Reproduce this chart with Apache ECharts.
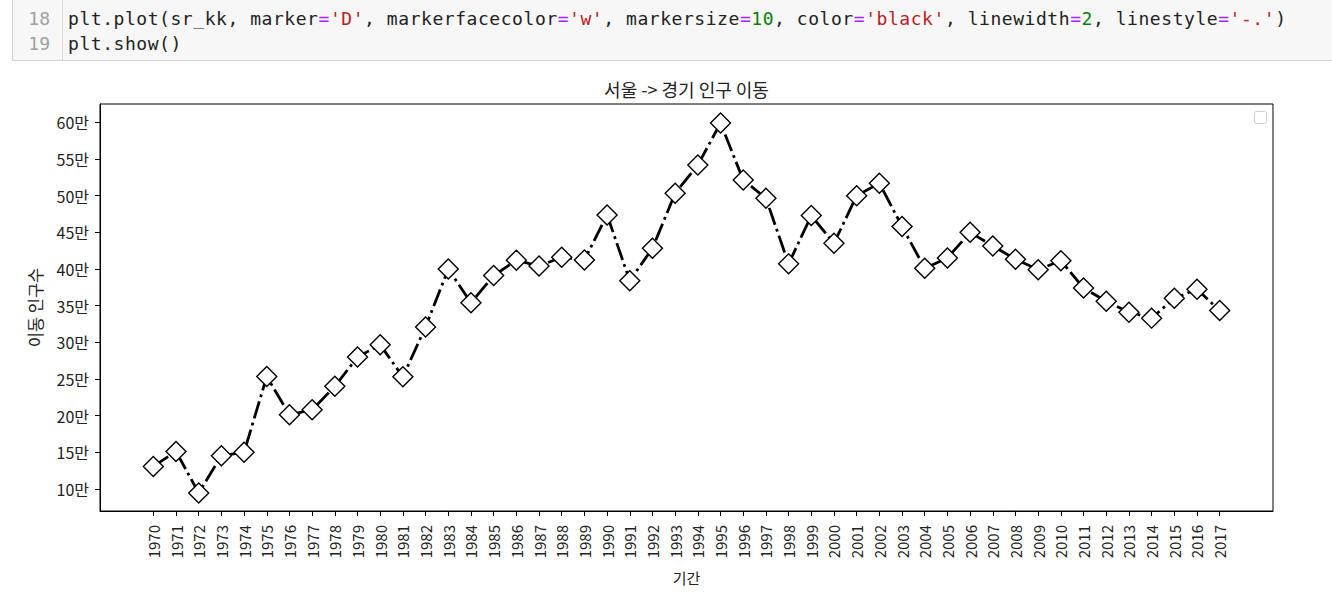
<!DOCTYPE html>
<html>
<head>
<meta charset="utf-8">
<script src="https://cdn.jsdelivr.net/npm/echarts@6/dist/echarts.min.js"></script>
<style>
  html, body { margin:0; padding:0; background:#fff; width:1332px; height:597px; overflow:hidden; }
  #chart { position:absolute; left:0; top:0; width:1332px; height:597px; }
  #cell { position:absolute; left:12px; top:-1px; width:1330px; height:62px; background:#f7f7f7;
          border:1px solid #d2d2d2; box-sizing:border-box; z-index:2; }
  #gutter { position:absolute; left:0; top:0; width:50px; height:100%; border-right:1px solid #dcdcdc;
            box-sizing:border-box; }
  .ln { position:absolute; right:12px; color:#a0a0a0; font-family:"DejaVu Sans Mono", monospace; font-size:18px; line-height:25px; }
  .code { position:absolute; left:55px; font-family:"DejaVu Sans Mono", monospace; font-size:18px; letter-spacing:0.55px;
          line-height:25px; color:#222; white-space:pre; }
  .o { color:#aa22ff; } .s { color:#ba2121; } .n { color:#008000; }
</style>
</head>
<body>
<div id="chart"></div>
<div id="cell">
  <div id="gutter">
    <div class="ln" style="top:6px">18</div>
    <div class="ln" style="top:31px">19</div>
  </div>
  <div class="code" style="top:6px">plt.plot(sr_kk, marker<span class="o">=</span><span class="s">'D'</span>, markerfacecolor<span class="o">=</span><span class="s">'w'</span>, markersize<span class="o">=</span><span class="n">10</span>, color<span class="o">=</span><span class="s">'black'</span>, linewidth<span class="o">=</span><span class="n">2</span>, linestyle<span class="o">=</span><span class="s">'-.'</span>)</div>
  <div class="code" style="top:31px">plt.show()</div>
</div>
<script>
const chartTitle = '서울 -> 경기 인구 이동';
const xName = '기간';
const yName = '이동 인구수';
const years = [1970,1971,1972,1973,1974,1975,1976,1977,1978,1979,1980,1981,1982,1983,1984,1985,1986,1987,1988,1989,
  1990,1991,1992,1993,1994,1995,1996,1997,1998,1999,2000,2001,2002,2003,2004,2005,2006,2007,2008,2009,
  2010,2011,2012,2013,2014,2015,2016,2017];
// 이동 인구수 (만 명 단위)
const movers = [13.08,15.12,9.46,14.54,15.0,25.34,20.12,20.8,24.0,28.0,29.66,25.3,32.1,40.0,35.4,39.1,41.2,40.4,41.6,41.24,
  47.37,38.4,42.83,50.33,54.18,59.9,52.14,49.65,40.7,47.28,43.5,50.0,51.7,45.8,40.1,41.5,45.0,43.15,41.33,39.9,
  41.14,37.4,35.6,34.1,33.3,36.0,37.25,34.33];
const yTicks = [10,15,20,25,30,35,40,45,50,55,60];

const FONT = '"Noto Sans CJK KR", "Noto Sans", sans-serif';
const chart = echarts.init(document.getElementById('chart'), null, { renderer: 'svg' });
const span = years[years.length-1] - years[0];
chart.setOption({
  animation: false,
  backgroundColor: '#fff',
  grid: { left: 100, right: 59, top: 104, bottom: 86, show: true, borderColor: '#000', borderWidth: 1, backgroundColor: '#fff' },
  graphic: [
    { type: 'text', x: 686.5, y: 89, style: { text: chartTitle, align: 'center', verticalAlign: 'middle',
      font: '18px ' + FONT, fill: '#222' } },
    { type: 'rect', shape: { x: 1254.5, y: 111.5, width: 12, height: 12, r: 2 },
      style: { fill: '#fff', stroke: '#cfcfcf', lineWidth: 1 } }
  ],
  xAxis: {
    type: 'value',
    min: years[0] - 0.05*span, max: years[years.length-1] + 0.05*span,
    name: xName, nameLocation: 'middle', nameGap: 59,
    nameTextStyle: { fontFamily: FONT, fontSize: 15, color: '#222' },
    splitLine: { show: false },
    axisLine: { show: true, lineStyle: { color: '#000', width: 1 } },
    axisTick: { show: true, customValues: years, length: 5, lineStyle: { color: '#000', width: 1 } },
    axisLabel: { customValues: years, rotate: 90, margin: 14, fontFamily: FONT, fontSize: 15, color: '#222',
      formatter: v => String(v) }
  },
  yAxis: {
    type: 'value', min: 7.0, max: 62.5,
    name: yName, nameLocation: 'middle', nameGap: 57, nameRotate: 90,
    nameTextStyle: { fontFamily: FONT, fontSize: 16.5, color: '#222' },
    splitLine: { show: false },
    axisLine: { show: true, lineStyle: { color: '#000', width: 1 } },
    axisTick: { show: true, customValues: yTicks, length: 5, lineStyle: { color: '#000', width: 1 } },
    axisLabel: { customValues: yTicks, margin: 11, fontFamily: FONT, fontSize: 16, color: '#222',
      formatter: v => v + '만' }
  },
  series: [{
    type: 'line',
    data: years.map((y, i) => [y, movers[i]]),
    symbol: 'diamond', symbolSize: 20, showAllSymbol: true,
    itemStyle: { color: '#fff', borderColor: '#000', borderWidth: 1.4 },
    lineStyle: { color: '#000', width: 2.8, type: [17.8, 4.4, 2.8, 4.4], cap: 'butt' },
    z: 3
  }]
});
</script>
</body>
</html>
